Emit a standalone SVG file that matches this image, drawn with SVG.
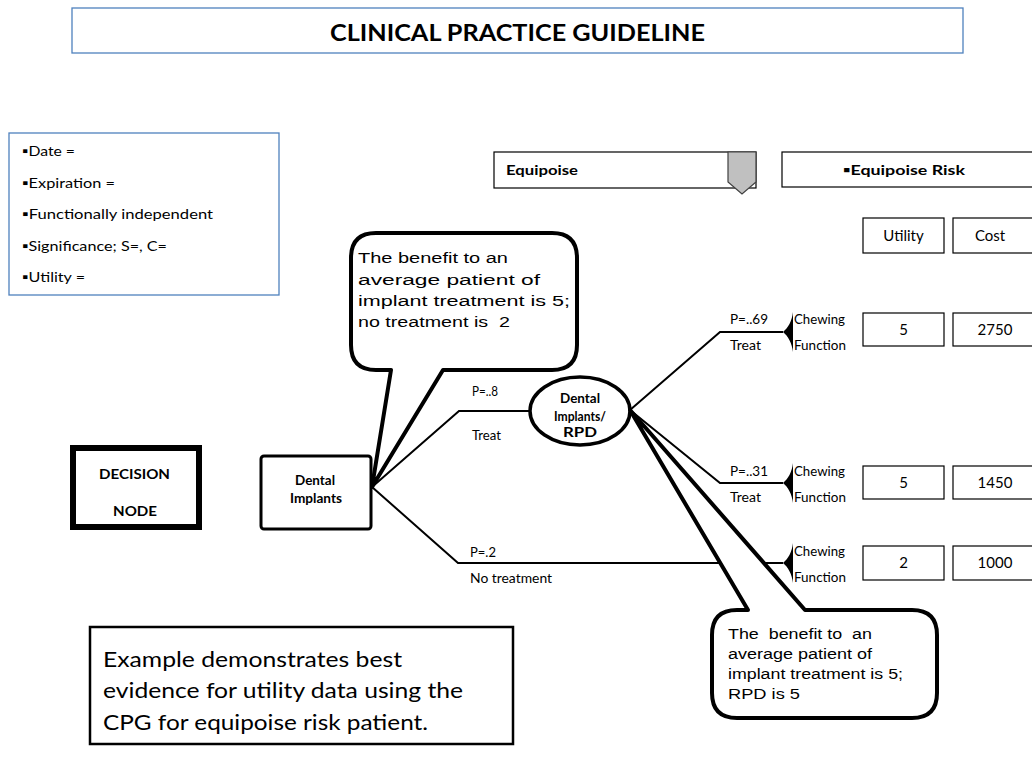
<svg xmlns="http://www.w3.org/2000/svg" width="1032" height="771" viewBox="0 0 1032 771">
<style>
.c{font-family:Lato,'Liberation Sans',sans-serif;fill:#000}
.a{font-family:'Liberation Sans',Arial,sans-serif;font-size:15.5px;fill:#000}
.b{font-weight:bold}
.ln{fill:none;stroke:#000;stroke-width:2}
.box{fill:#fff;stroke:#000;stroke-width:1.2}
.blue{fill:#fff;stroke:#4F81BD;stroke-width:1.3}
.call{fill:#fff;stroke:#000;stroke-width:4;stroke-linejoin:round}
.s12{font-size:12.5px}
.s14{font-size:14px}
.s15{font-size:15px}
</style>
<defs>
<path id="term" d="M0,0 C5,-4 9,-11 10,-20 L10,20 C9,11 5,4 0,0 Z" fill="#000"/>
</defs>
<rect width="1032" height="771" fill="#fff"/>

<g id="title">
<rect class="blue" x="72" y="8" width="891" height="45"/>
<text class="c b" x="330" y="41" font-size="22" textLength="375" lengthAdjust="spacingAndGlyphs">CLINICAL PRACTICE GUIDELINE</text>
</g>

<g id="info">
<rect class="blue" x="9" y="133" width="270" height="162"/>
<text class="c s14" x="22" y="156" textLength="53" lengthAdjust="spacingAndGlyphs">▪Date =</text>
<text class="c s14" x="22" y="188" textLength="93" lengthAdjust="spacingAndGlyphs">▪Expiration =</text>
<text class="c s14" x="22" y="219" textLength="191" lengthAdjust="spacingAndGlyphs">▪Functionally independent</text>
<text class="c s14" x="22" y="251" textLength="145" lengthAdjust="spacingAndGlyphs">▪Significance; S=, C=</text>
<text class="c s14" x="22" y="282" textLength="63" lengthAdjust="spacingAndGlyphs">▪Utility =</text>
</g>

<g id="equipoise">
<rect class="box" x="494" y="152" width="262" height="36"/>
<text class="c b s14" x="506" y="175" textLength="72" lengthAdjust="spacingAndGlyphs">Equipoise</text>
<path d="M728,152 L756,152 L756,182 L742,194 L728,182 Z" fill="#C0C0C0" stroke="#404040" stroke-width="1.2"/>
</g>

<g id="equipoise-risk">
<rect class="box" x="782" y="152" width="260" height="35"/>
<text class="c b s14" x="843" y="175" textLength="122" lengthAdjust="spacingAndGlyphs">▪Equipoise Risk</text>
</g>

<g id="utility-head">
<rect class="box" x="863" y="218" width="81" height="35"/>
<text class="c s15" x="903.5" y="241" text-anchor="middle">Utility</text>
</g>
<g id="cost-head">
<rect class="box" x="953" y="218" width="89" height="35"/>
<text class="c s15" x="990" y="241" text-anchor="middle">Cost</text>
</g>

<g id="connectors">
<polyline class="ln" points="372,487 459,411 531,411"/>
<polyline class="ln" points="372,487 458,563 783,563"/>
<polyline class="ln" points="630,410 720,332 783,332"/>
<polyline class="ln" points="630,410 720,483 783,483"/>
<use href="#term" x="783" y="332"/>
<use href="#term" x="783" y="483"/>
<use href="#term" x="783" y="563"/>
</g>

<g id="labels">
<text class="c s12" x="472" y="396" textLength="26" lengthAdjust="spacingAndGlyphs">P=..8</text>
<text class="c s12" x="472" y="440" textLength="29" lengthAdjust="spacingAndGlyphs">Treat</text>
<text class="c s12" x="470" y="557" textLength="26" lengthAdjust="spacingAndGlyphs">P=.2</text>
<text class="c s12" x="470" y="583" textLength="82" lengthAdjust="spacingAndGlyphs">No treatment</text>
<text class="c s12" x="730" y="324" textLength="38" lengthAdjust="spacingAndGlyphs">P=..69</text>
<text class="c s12" x="730" y="350" textLength="31" lengthAdjust="spacingAndGlyphs">Treat</text>
<text class="c s12" x="730" y="476" textLength="38" lengthAdjust="spacingAndGlyphs">P=..31</text>
<text class="c s12" x="730" y="502" textLength="31" lengthAdjust="spacingAndGlyphs">Treat</text>
</g>

<g id="decision-node">
<rect x="73" y="448" width="126" height="79" fill="#fff" stroke="#000" stroke-width="6"/>
<text class="c b s14" x="99" y="479" textLength="71" lengthAdjust="spacingAndGlyphs">DECISION</text>
<text class="c b s14" x="113" y="516" textLength="44" lengthAdjust="spacingAndGlyphs">NODE</text>
</g>

<g id="dental-implants">
<rect x="261" y="456" width="110" height="73" rx="3" fill="#fff" stroke="#000" stroke-width="3"/>
<text class="c b s12" x="295" y="485" textLength="40" lengthAdjust="spacingAndGlyphs">Dental</text>
<text class="c b s12" x="290" y="503" textLength="52" lengthAdjust="spacingAndGlyphs">Implants</text>
</g>

<g id="chance-node">
<ellipse cx="580" cy="411" rx="50" ry="34" fill="#fff" stroke="#000" stroke-width="3.5"/>
<text class="c b s12" x="560" y="403" textLength="40" lengthAdjust="spacingAndGlyphs">Dental</text>
<text class="c b s12" x="554" y="421" textLength="52" lengthAdjust="spacingAndGlyphs">Implants/</text>
<text class="c b s12" x="563" y="437" textLength="34" lengthAdjust="spacingAndGlyphs">RPD</text>
</g>

<g id="outcome-1">
<text class="c s12" x="794" y="324" textLength="51" lengthAdjust="spacingAndGlyphs">Chewing</text>
<text class="c s12" x="794" y="350" textLength="52" lengthAdjust="spacingAndGlyphs">Function</text>
<rect class="box" x="863" y="313" width="81" height="33"/>
<text class="c s15" x="903.5" y="335" text-anchor="middle">5</text>
<rect class="box" x="953" y="313" width="89" height="33"/>
<text class="c s15" x="995" y="335" text-anchor="middle">2750</text>
</g>
<g id="outcome-2">
<text class="c s12" x="794" y="476" textLength="51" lengthAdjust="spacingAndGlyphs">Chewing</text>
<text class="c s12" x="794" y="502" textLength="52" lengthAdjust="spacingAndGlyphs">Function</text>
<rect class="box" x="863" y="466" width="81" height="33"/>
<text class="c s15" x="903.5" y="488" text-anchor="middle">5</text>
<rect class="box" x="953" y="466" width="89" height="33"/>
<text class="c s15" x="995" y="488" text-anchor="middle">1450</text>
</g>
<g id="outcome-3">
<text class="c s12" x="794" y="556" textLength="51" lengthAdjust="spacingAndGlyphs">Chewing</text>
<text class="c s12" x="794" y="582" textLength="52" lengthAdjust="spacingAndGlyphs">Function</text>
<rect class="box" x="863" y="546" width="81" height="34"/>
<text class="c s15" x="903.5" y="568" text-anchor="middle">2</text>
<rect class="box" x="953" y="546" width="89" height="34"/>
<text class="c s15" x="995" y="568" text-anchor="middle">1000</text>
</g>

<g id="callout-1">
<path class="call" d="M376,233 L552,233 Q577,233 577,258 L577,345 Q577,370 552,370 L443,370 L372,487 L391,370 L376,370 Q351,370 351,345 L351,258 Q351,233 376,233 Z"/>
<text class="a" x="358" y="263" textLength="150" lengthAdjust="spacingAndGlyphs">The benefit to an</text>
<text class="a" x="358" y="285" textLength="182" lengthAdjust="spacingAndGlyphs">average patient of</text>
<text class="a" x="358" y="306" textLength="212" lengthAdjust="spacingAndGlyphs">implant treatment is 5;</text>
<text class="a" x="358" y="327" textLength="152" lengthAdjust="spacingAndGlyphs" xml:space="preserve">no treatment is  2</text>
</g>

<g id="callout-2">
<path class="call" d="M737,610 L748,610 L630,410 L805,610 L912,610 Q937,610 937,635 L937,693 Q937,718 912,718 L737,718 Q712,718 712,693 L712,635 Q712,610 737,610 Z"/>
<text class="a" x="728" y="639" textLength="144" lengthAdjust="spacingAndGlyphs" xml:space="preserve">The  benefit to  an</text>
<text class="a" x="728" y="659" textLength="144" lengthAdjust="spacingAndGlyphs">average patient of</text>
<text class="a" x="728" y="679" textLength="175" lengthAdjust="spacingAndGlyphs">implant treatment is 5;</text>
<text class="a" x="728" y="699" textLength="72" lengthAdjust="spacingAndGlyphs">RPD is 5</text>
</g>

<g id="example">
<rect x="90" y="627" width="423" height="117" fill="#fff" stroke="#000" stroke-width="2.5"/>
<text class="c" x="103" y="667" font-size="21" textLength="299" lengthAdjust="spacingAndGlyphs">Example demonstrates best</text>
<text class="c" x="103" y="698" font-size="21" textLength="360" lengthAdjust="spacingAndGlyphs">evidence for utility data using the</text>
<text class="c" x="103" y="730" font-size="21" textLength="325" lengthAdjust="spacingAndGlyphs">CPG for equipoise risk patient.</text>
</g>
</svg>
